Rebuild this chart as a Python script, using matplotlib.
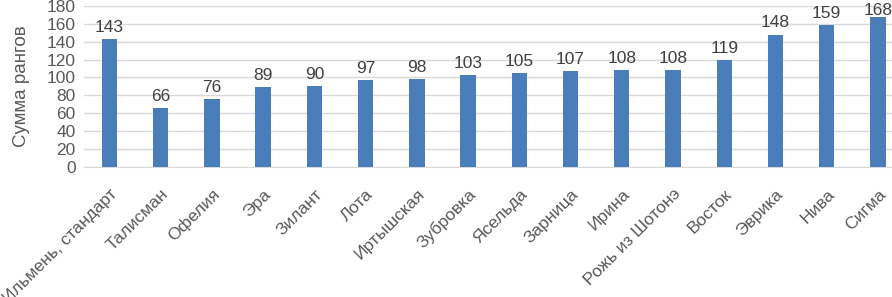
import matplotlib.pyplot as plt

# data
sorts = ["Ильмень, стандарт", "Талисман", "Офелия", "Эра", "Зилант", "Лота",
         "Иртышская", "Зубровка", "Ясельда", "Зарница", "Ирина",
         "Рожь из Шотонэ", "Восток", "Эврика", "Нива", "Сигма"]
ranks = [143, 66, 76, 89, 90, 97, 98, 103, 105, 107, 108, 108, 119, 148, 159, 168]

plt.rcParams['font.family'] = ['Liberation Sans', 'DejaVu Sans']

fig = plt.figure(figsize=(8.92, 2.97), dpi=100)
ax = fig.add_axes([0.094, 0.438, 0.919, 0.542])

x = range(len(sorts))
bars = ax.bar(x, ranks, width=0.3, color="#4a7ebb", zorder=3)
for b, v in zip(bars, ranks):
    # label just above the bar, kept inside the picture at the top
    ax.text(b.get_x() + b.get_width() / 2, min(v + 8, 170), str(v),
            ha="center", va="baseline", fontsize=12.5, color="#404040")

ax.set_ylim(0, 180)
ax.set_yticks(range(0, 181, 20))
ax.set_xlim(-0.5, len(sorts) - 0.5)
ax.set_xticks(list(x))
ax.set_xticklabels(sorts, rotation=45, ha="right", rotation_mode="anchor")
ax.tick_params(axis="both", length=0, labelsize=12.5, labelcolor="#595959")
ax.tick_params(axis="x", pad=14)
ax.tick_params(axis="y", pad=6)
ax.grid(axis="y", color="#d9d9d9", linewidth=1, zorder=0)
for s in ["top", "right", "left"]:
    ax.spines[s].set_visible(False)
ax.spines["bottom"].set_color("#d9d9d9")
ax.set_ylabel("Сумма рангов", fontsize=13.5, color="#595959")
ax.yaxis.set_label_coords(-0.066, 0.5)

fig.savefig("out.png", dpi=100)
